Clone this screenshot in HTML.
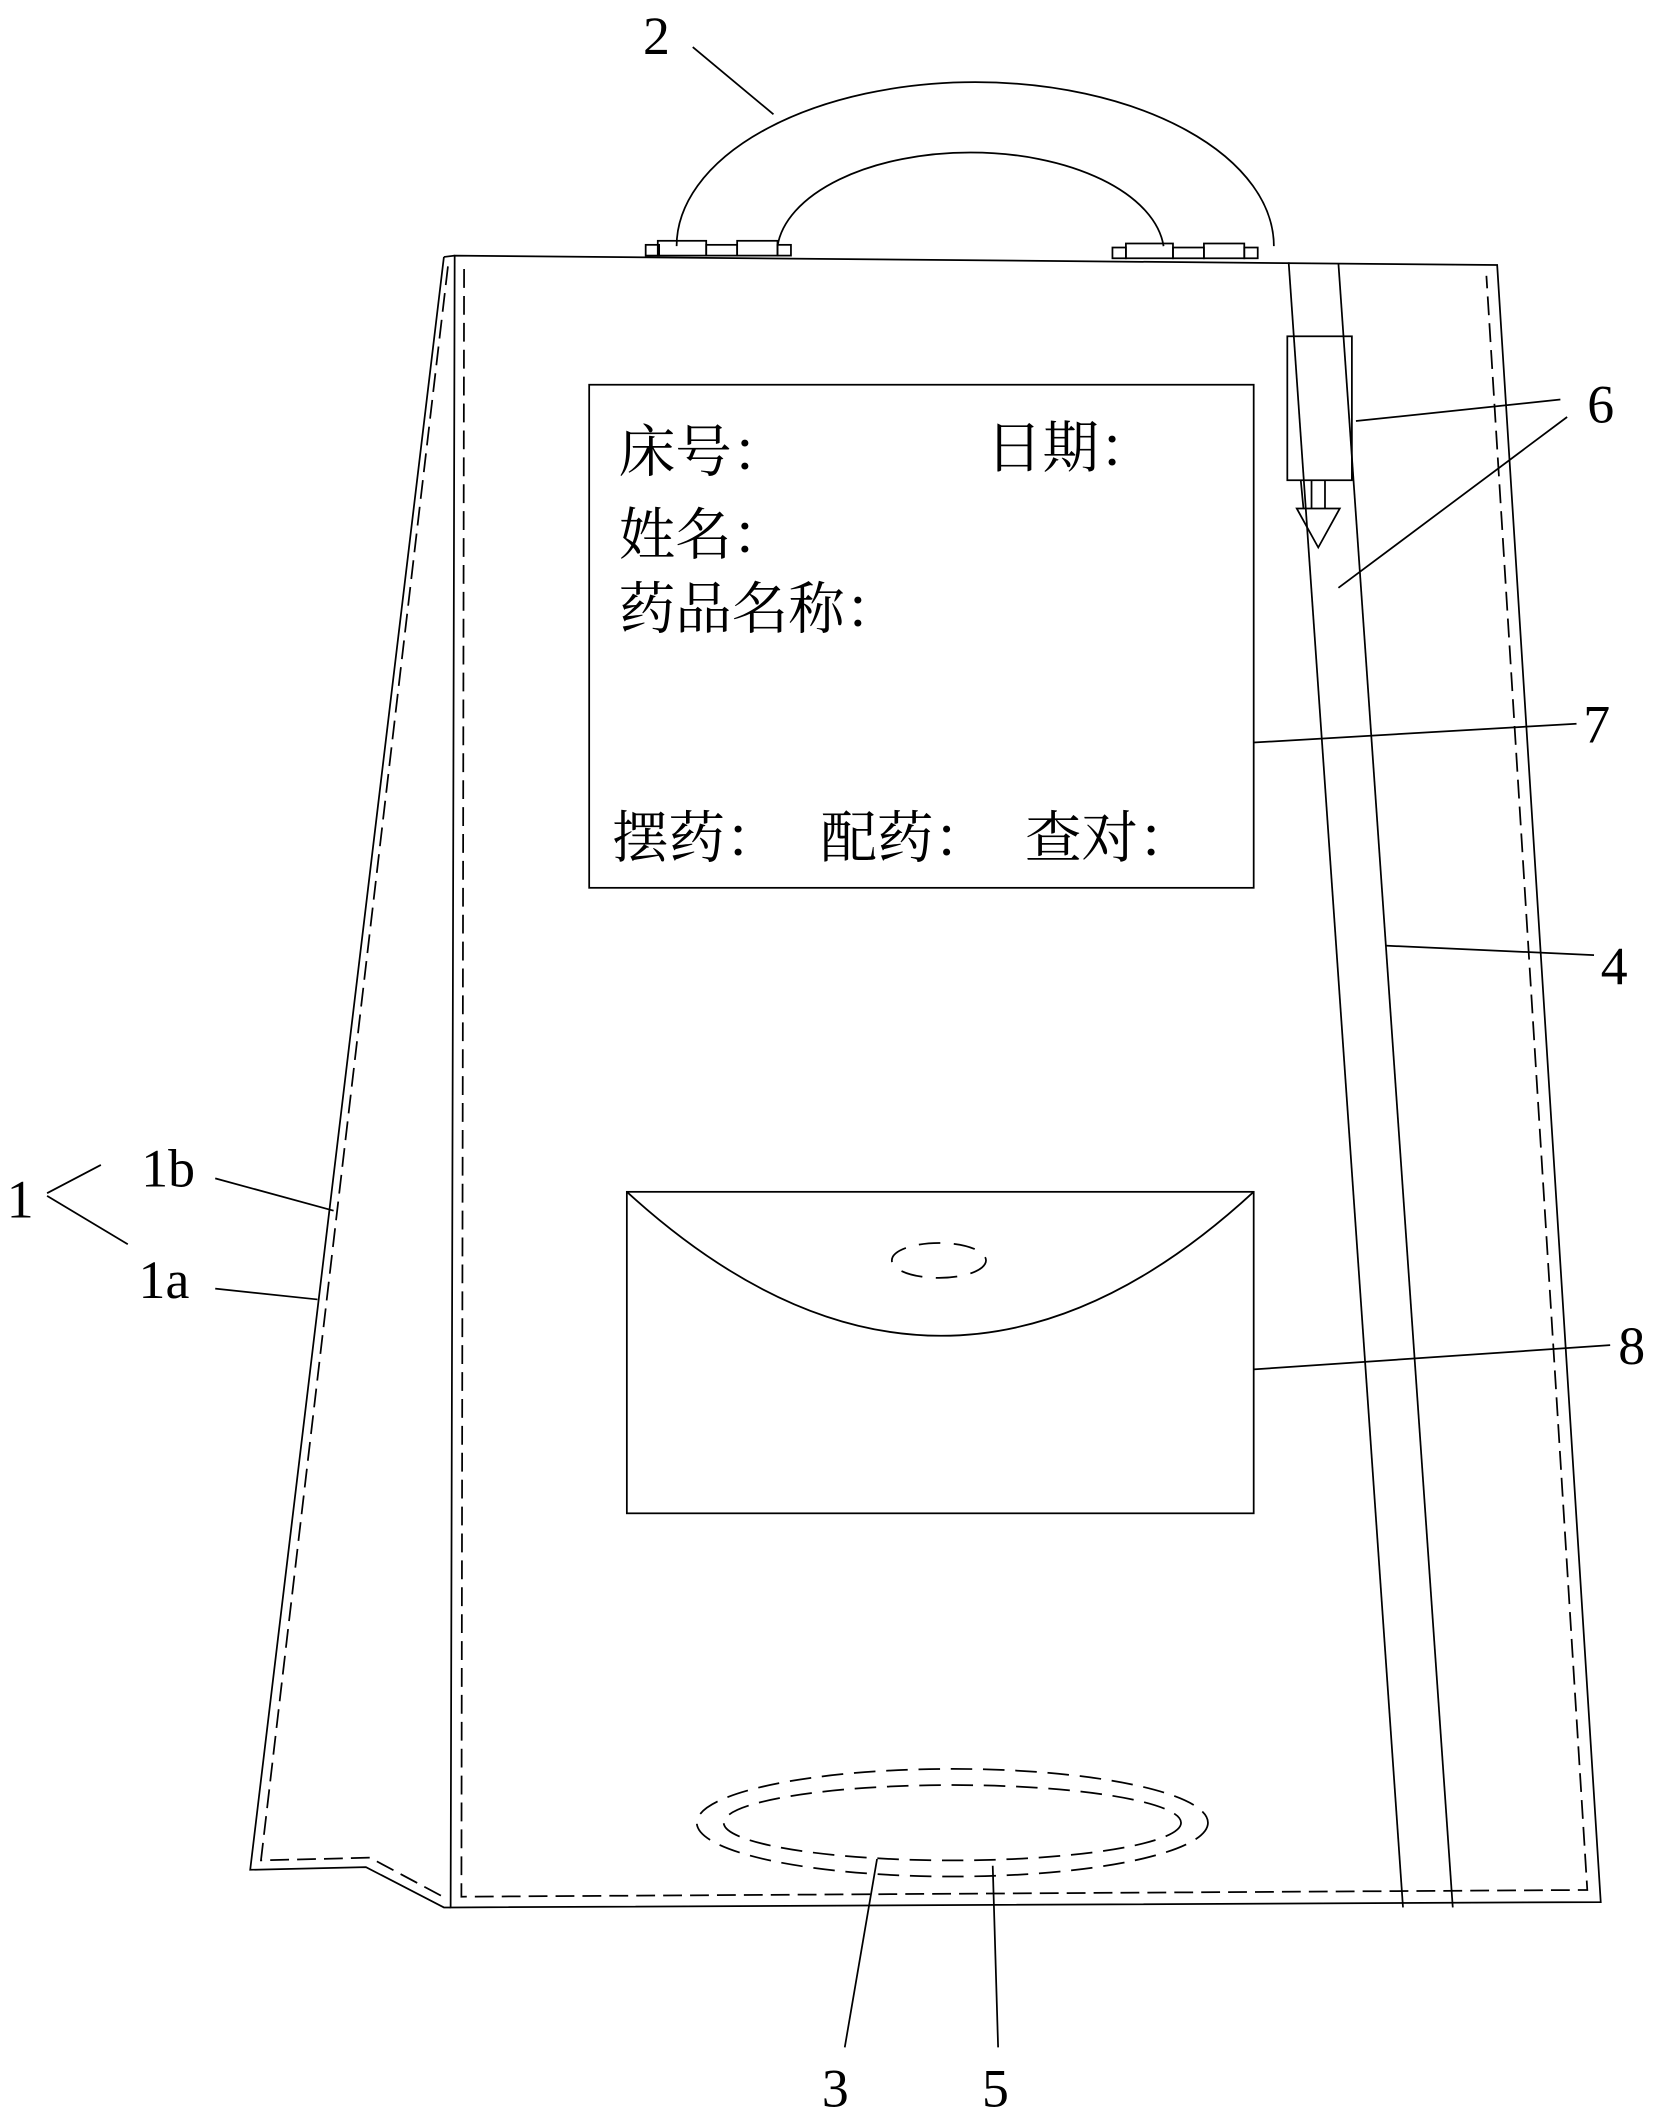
<!DOCTYPE html>
<html><head><meta charset="utf-8"><style>
html,body{margin:0;padding:0;background:#fff}
svg{display:block}
text{font-family:"Liberation Serif","Noto Serif CJK SC",serif;fill:#000}
.c{font-family:"Liberation Serif","Noto Serif CJK SC",serif;font-size:42px}
</style></head><body>
<svg width="1668" height="2120" viewBox="0 0 1240 1576" xmlns="http://www.w3.org/2000/svg">
<g fill="none" stroke="#000" stroke-width="1.3">
<path d="M503 183 A222 122 0 0 1 947 183"/>
<path d="M578 183 A144 76 0 0 1 865 183"/>
<rect x="480" y="182" width="10" height="8"/><rect x="489" y="179" width="36" height="11"/><rect x="525" y="182" width="23" height="8"/><rect x="548" y="179" width="30" height="11"/><rect x="578" y="182" width="10" height="8"/>
<rect x="827" y="184" width="10" height="8"/><rect x="837" y="181" width="35" height="11"/><rect x="872" y="184" width="23" height="8"/><rect x="895" y="181" width="30" height="11"/><rect x="925" y="184" width="10" height="8"/>
<path d="M338 190 L1113 197 L1190 1414 L335 1418 Z"/>
<path d="M330 191 L338 190"/>
<path d="M330 191 L186 1390 L272 1388 L330 1418 L335 1418"/>
<path d="M333 198 L194 1383 L275 1381 L333 1412" stroke-dasharray="14 6"/>
<path d="M345 200 L343 1410 L1180 1405 L1105 205" stroke-dasharray="14 6"/>
<path d="M958 195 L1043 1418"/><path d="M995 196 L1080 1418"/>
<rect x="957" y="250" width="48" height="107"/>
<path d="M967 357 L969 378 M975 357 L975 378 M985 357 L985 378"/>
<path d="M964 378 L996 378 L980 407 Z"/>
<rect x="438" y="286" width="494" height="374"/>
<rect x="466" y="886" width="466" height="239"/>
<path d="M466 886 Q700 1100 932 886"/>
<ellipse cx="698" cy="937" rx="35" ry="13" stroke-dasharray="16 10"/>
<ellipse cx="708" cy="1355" rx="190" ry="40" stroke-dasharray="16 8"/>
<ellipse cx="708" cy="1355" rx="170" ry="28" stroke-dasharray="16 8"/>
<path d="M515 35 L575 85"/>
<path d="M1008 313 L1160 297"/><path d="M995 437 L1165 310"/>
<path d="M932 552 L1172 538"/>
<path d="M1030 703 L1185 710"/>
<path d="M932 1018 L1197 1000"/>
<path d="M35 887 L75 866"/><path d="M35 889 L95 925"/>
<path d="M160 876 L248 900"/>
<path d="M160 958 L236 966"/>
<path d="M652 1382 L628 1522"/>
<path d="M738 1387 L742 1522"/>
</g>
<g font-size="40">
<text x="478" y="40">2</text>
<text x="1180" y="314">6</text>
<text x="1177" y="552">7</text>
<text x="1190" y="732">4</text>
<text x="1203" y="1014">8</text>
<text x="5" y="905">1</text>
<text x="105" y="882">1b</text>
<text x="103" y="965">1a</text>
<text x="611" y="1566">3</text>
<text x="730" y="1566">5</text>
</g>
<text class="c" x="460" y="350">床号：</text>
<text class="c" x="733" y="347">日期：</text>
<text class="c" x="460" y="412">姓名：</text>
<text class="c" x="460" y="467">药品名称：</text>
<text class="c" x="455" y="637">摆药：</text>
<text class="c" x="610" y="637">配药：</text>
<text class="c" x="762" y="637">查对：</text>
</svg>
</body></html>
